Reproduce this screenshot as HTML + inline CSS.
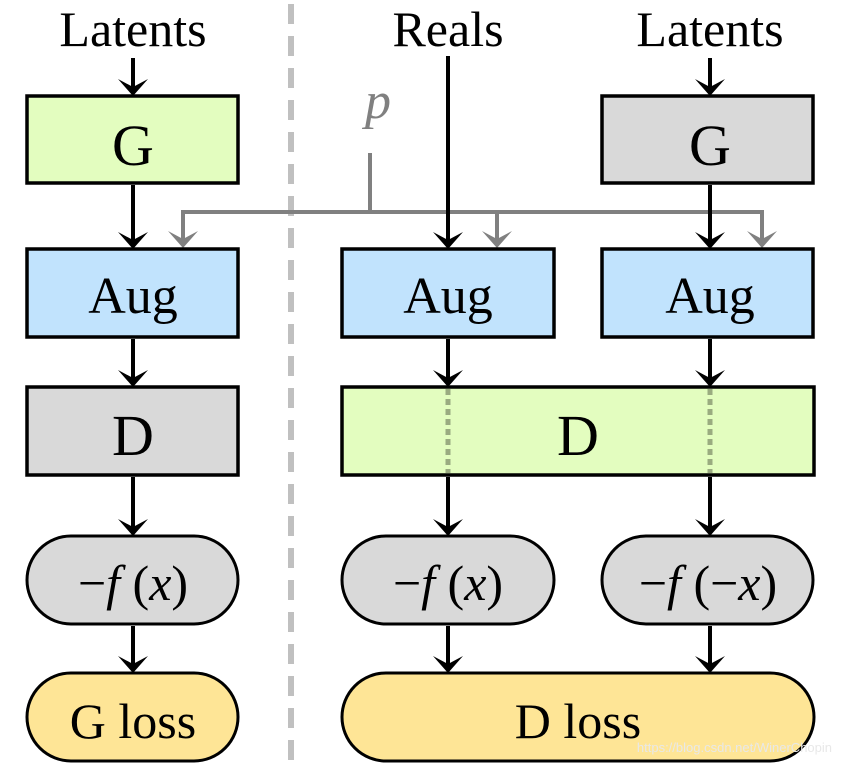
<!DOCTYPE html>
<html><head><meta charset="utf-8"><style>
html,body{margin:0;padding:0;background:#fff;}
svg{display:block;}
text{font-family:"Liberation Serif",serif;fill:#000;}
</style></head><body>
<svg width="841" height="767" viewBox="0 0 841 767" xmlns="http://www.w3.org/2000/svg">
<defs>
<path id="ah" d="M-15,-17 L0,0 L15,-17 L0,-9 Z"/>
</defs>
<!-- divider -->
<line x1="291" y1="4" x2="291" y2="767" stroke="#c0c0c0" stroke-width="6" stroke-dasharray="20,12"/>

<!-- titles -->
<text x="133" y="46" font-size="50" text-anchor="middle">Latents</text>
<text x="448" y="46" font-size="50" text-anchor="middle">Reals</text>
<text x="710" y="46" font-size="50" text-anchor="middle">Latents</text>
<text x="378" y="118" font-size="52" font-style="italic" fill="#808080" style="fill:#808080" text-anchor="middle">p</text>

<!-- gray p lines -->
<g stroke="#808080" stroke-width="4" fill="none">
<polyline points="370,153 370,212"/>
<polyline points="183,240 183,212 762,212 762,240"/>
<line x1="497" y1="212" x2="497" y2="240"/>
</g>
<g fill="#808080">
<use href="#ah" x="183" y="248"/>
<use href="#ah" x="497" y="248"/>
<use href="#ah" x="762" y="248"/>
</g>

<!-- boxes -->
<g stroke="#000" stroke-width="3.5">
<rect x="27" y="96" width="211" height="87" fill="#e3fdbf"/>
<rect x="602" y="96" width="211" height="87" fill="#d9d9d9"/>
<rect x="27" y="249" width="211" height="88" fill="#c1e3fd"/>
<rect x="342" y="249" width="212" height="88" fill="#c1e3fd"/>
<rect x="602" y="249" width="211" height="88" fill="#c1e3fd"/>
<rect x="27" y="387" width="211" height="88" fill="#d9d9d9"/>
<rect x="342" y="387" width="472" height="88" fill="#e3fdbf"/>
<rect x="27" y="536" width="211" height="88" rx="44" fill="#d9d9d9" stroke-width="3"/>
<rect x="342" y="536" width="212" height="88" rx="44" fill="#d9d9d9" stroke-width="3"/>
<rect x="602" y="536" width="211" height="88" rx="44" fill="#d9d9d9" stroke-width="3"/>
<rect x="27" y="673" width="211" height="88" rx="44" fill="#fee596" stroke-width="3"/>
<rect x="342" y="673" width="472" height="88" rx="44" fill="#fee596" stroke-width="3"/>
</g>

<!-- dotted lines in D -->
<g stroke="#9aab80" stroke-width="5" stroke-dasharray="6,4">
<line x1="448" y1="389" x2="448" y2="473"/>
<line x1="710" y1="389" x2="710" y2="473"/>
</g>

<!-- black arrows -->
<g stroke="#000" stroke-width="4">
<line x1="133" y1="58" x2="133" y2="90"/>
<line x1="710" y1="58" x2="710" y2="90"/>
<line x1="448" y1="56" x2="448" y2="243"/>
<line x1="133" y1="185" x2="133" y2="243"/>
<line x1="710" y1="185" x2="710" y2="243"/>
<line x1="133" y1="339" x2="133" y2="381"/>
<line x1="448" y1="339" x2="448" y2="381"/>
<line x1="710" y1="339" x2="710" y2="381"/>
<line x1="133" y1="477" x2="133" y2="530"/>
<line x1="448" y1="477" x2="448" y2="530"/>
<line x1="710" y1="477" x2="710" y2="530"/>
<line x1="133" y1="626" x2="133" y2="667"/>
<line x1="448" y1="626" x2="448" y2="667"/>
<line x1="710" y1="626" x2="710" y2="667"/>
</g>
<g fill="#000">
<use href="#ah" x="133" y="96"/><use href="#ah" x="710" y="96"/>
<use href="#ah" x="448" y="249"/><use href="#ah" x="133" y="249"/><use href="#ah" x="710" y="249"/>
<use href="#ah" x="133" y="387"/><use href="#ah" x="448" y="387"/><use href="#ah" x="710" y="387"/>
<use href="#ah" x="133" y="536"/><use href="#ah" x="448" y="536"/><use href="#ah" x="710" y="536"/>
<use href="#ah" x="133" y="673"/><use href="#ah" x="448" y="673"/><use href="#ah" x="710" y="673"/>
</g>

<!-- labels -->
<text x="133" y="165" font-size="58" text-anchor="middle">G</text>
<text x="710" y="165" font-size="58" text-anchor="middle">G</text>
<text x="133" y="313" font-size="52" text-anchor="middle">Aug</text>
<text x="448" y="313" font-size="52" text-anchor="middle">Aug</text>
<text x="710" y="313" font-size="52" text-anchor="middle">Aug</text>
<text x="133" y="455" font-size="58" text-anchor="middle">D</text>
<text x="578" y="455" font-size="58" text-anchor="middle">D</text>
<text x="133" y="600" font-size="50" text-anchor="middle">−<tspan font-style="italic">f</tspan> (<tspan font-style="italic">x</tspan>)</text>
<text x="448" y="600" font-size="50" text-anchor="middle">−<tspan font-style="italic">f</tspan> (<tspan font-style="italic">x</tspan>)</text>
<text x="708" y="600" font-size="50" text-anchor="middle">−<tspan font-style="italic">f</tspan> (−<tspan font-style="italic">x</tspan>)</text>
<text x="133" y="738" font-size="50" text-anchor="middle">G loss</text>
<text x="578" y="738" font-size="50" text-anchor="middle">D loss</text>
<text x="832" y="752" font-size="13" text-anchor="end" style="fill:#e8e8e8;font-family:'Liberation Sans',sans-serif">https://blog.csdn.net/WinerChopin</text>
</svg>
</body></html>
